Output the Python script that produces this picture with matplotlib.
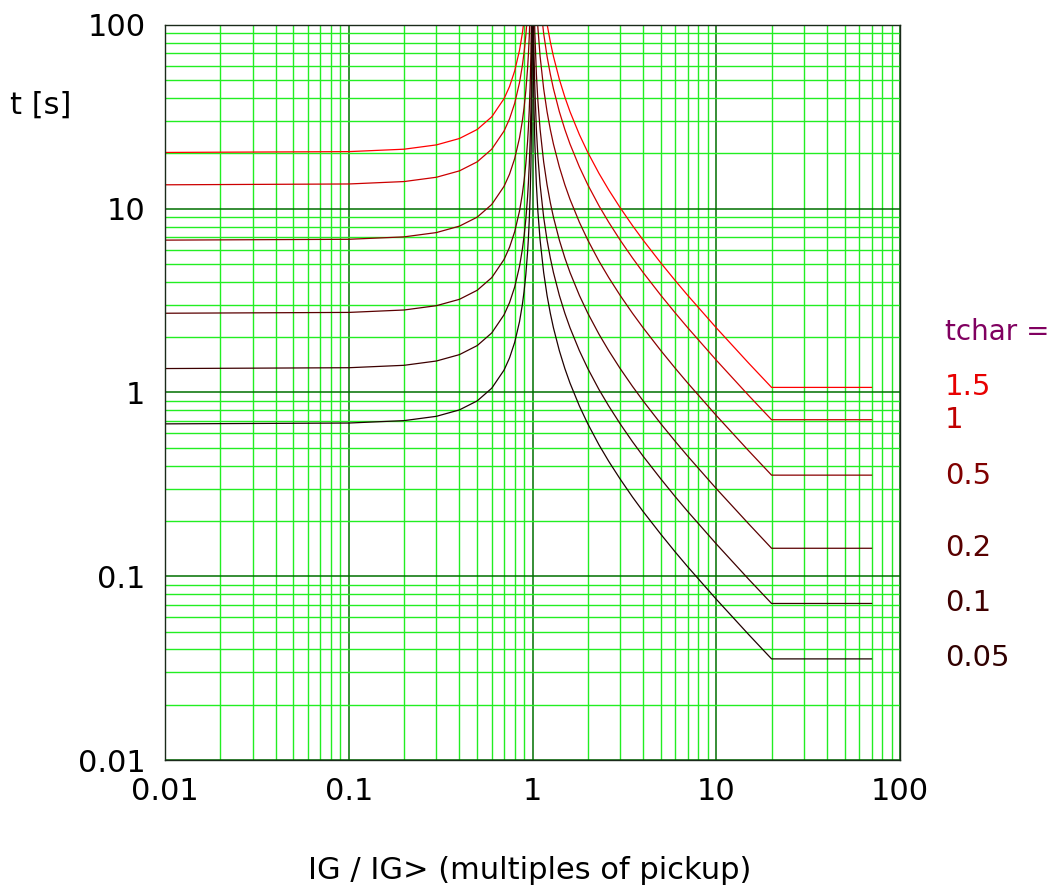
import matplotlib
matplotlib.use('Agg')
import matplotlib.pyplot as plt
import matplotlib.ticker as mtick

# ---------- DATA ----------
# below pickup (IG/IG> < 1)
x_left = [0.01, 0.1, 0.2, 0.3, 0.4, 0.5, 0.6, 0.7, 0.75, 0.8, 0.85, 0.88, 0.9, 0.92, 0.94,
          0.95, 0.96, 0.97, 0.98, 0.99, 0.995, 0.999]
# above pickup (IG/IG> > 1), flat after 20
x_right = [1.005, 1.01, 1.02, 1.03, 1.05, 1.07, 1.1, 1.15, 1.2, 1.25, 1.3, 1.4, 1.5, 1.6, 1.8,
           2, 2.3, 2.6, 3, 3.5, 4, 5, 6, 7, 10, 15, 20, 70]

left_15 = [20.25, 20.46, 21.09, 22.26, 24.11, 27.00, 31.64, 39.71, 46.29, 56.25, 72.98, 89.76,
           106.6, 131.8, 174.0, 207.8, 258.3, 342.6, 511.4, 1018, 2030, 10131]
left_10 = [13.50, 13.64, 14.06, 14.84, 16.07, 18.00, 21.09, 26.47, 30.86, 37.50, 48.65, 59.84,
           71.05, 87.89, 116.0, 138.5, 172.2, 228.4, 340.9, 678.4, 1353, 6754]
left_05 = [6.75, 6.82, 7.03, 7.42, 8.04, 9.00, 10.55, 13.24, 15.43, 18.75, 24.33, 29.92,
           35.53, 43.95, 58.0, 69.25, 86.1, 114.2, 170.5, 339.2, 676.5, 3377]
left_02 = [2.70, 2.728, 2.812, 2.968, 3.214, 3.60, 4.218, 5.294, 6.172, 7.50, 9.73, 11.97,
           14.21, 17.58, 23.2, 27.7, 34.44, 45.68, 68.18, 135.7, 270.6, 1351]
left_01 = [1.35, 1.364, 1.406, 1.484, 1.607, 1.80, 2.109, 2.647, 3.086, 3.75, 4.865, 5.984,
           7.105, 8.789, 11.6, 13.85, 17.22, 22.84, 34.09, 67.84, 135.3, 675.4]
left_005 = [0.675, 0.682, 0.703, 0.742, 0.804, 0.90, 1.055, 1.324, 1.543, 1.875, 2.433, 2.992,
            3.553, 4.395, 5.8, 6.925, 8.61, 11.42, 17.05, 33.92, 67.65, 337.7]

right_15 = [4050, 2025, 1013, 675, 405, 289.3, 202.5, 135, 101.3, 81, 67.5, 50.63, 40.5, 33.75,
            25.31, 20.25, 15.58, 12.66, 10.13, 8.1, 6.75, 5.063, 4.05, 3.375, 2.25, 1.446,
            1.066, 1.066]
right_10 = [2700, 1350, 675, 450, 270, 192.9, 135, 90, 67.5, 54, 45, 33.75, 27, 22.5, 16.88,
            13.5, 10.38, 8.44, 6.75, 5.4, 4.5, 3.375, 2.7, 2.25, 1.5, 0.964, 0.711, 0.711]
right_05 = [1350, 675, 337.5, 225, 135, 96.4, 67.5, 45, 33.75, 27, 22.5, 16.88, 13.5, 11.25,
            8.44, 6.75, 5.19, 4.22, 3.375, 2.7, 2.25, 1.688, 1.35, 1.125, 0.75, 0.482, 0.355,
            0.355]
right_02 = [540, 270, 135, 90, 54, 38.57, 27, 18, 13.5, 10.8, 9.0, 6.75, 5.4, 4.5, 3.375, 2.7,
            2.077, 1.688, 1.35, 1.08, 0.9, 0.675, 0.54, 0.45, 0.30, 0.193, 0.142, 0.142]
right_01 = [270, 135, 67.5, 45, 27, 19.29, 13.5, 9.0, 6.75, 5.4, 4.5, 3.375, 2.7, 2.25, 1.688,
            1.35, 1.038, 0.844, 0.675, 0.54, 0.45, 0.338, 0.27, 0.225, 0.15, 0.0964, 0.0711,
            0.0711]
right_005 = [135, 67.5, 33.75, 22.5, 13.5, 9.64, 6.75, 4.5, 3.375, 2.7, 2.25, 1.688, 1.35, 1.125,
             0.844, 0.675, 0.519, 0.422, 0.338, 0.27, 0.225, 0.169, 0.135, 0.1125, 0.075,
             0.0482, 0.0355, 0.0355]

lefts = [left_15, left_10, left_05, left_02, left_01, left_005]
rights = [right_15, right_10, right_05, right_02, right_01, right_005]
tchar_labels = ['1.5', '1', '0.5', '0.2', '0.1', '0.05']
curve_colors = ['#ff0000', '#cc0000', '#880000', '#5a0000', '#3c0000', '#1e0000']
label_colors = ['#e80000', '#c00000', '#800000', '#580000', '#400000', '#300000']
label_ypix = [387, 420, 476, 548, 603, 658]

W, H = 1054, 888

# ---------- PLOT ----------
fig = plt.figure(figsize=(W / 100, H / 100), dpi=100)
ax = fig.add_axes([165 / W, 1 - 760 / H, 735 / W, 735 / H])

ax.set_xscale('log')
ax.set_yscale('log')
ax.set_xlim(0.01, 100)
ax.set_ylim(0.01, 100)

ax.xaxis.set_minor_locator(mtick.LogLocator(base=10, subs=range(2, 10)))
ax.yaxis.set_minor_locator(mtick.LogLocator(base=10, subs=range(2, 10)))
ax.grid(which='minor', color='#22ee22', linewidth=1.0)
ax.grid(which='major', color='#006f00', linewidth=1.1)
ax.set_axisbelow(True)

for i in range(len(lefts)):
    ax.plot(x_left, lefts[i], color=curve_colors[i], linewidth=0.9)
    ax.plot(x_right, rights[i], color=curve_colors[i], linewidth=0.9)

ax.xaxis.set_major_formatter(mtick.FuncFormatter(lambda v, p: '{:g}'.format(v)))
ax.yaxis.set_major_formatter(mtick.FuncFormatter(lambda v, p: '{:g}'.format(v)))
ax.tick_params(which='both', length=0, labelsize=22, pad=14)
ax.tick_params(axis='x', pad=12)
for s in ax.spines.values():
    s.set_color('#1a2a1a')
    s.set_linewidth(1.0)

fig.text(308 / W, 1 - 870 / H, 'IG / IG> (multiples of pickup)', fontsize=22,
         ha='left', va='center')
fig.text(10 / W, 1 - 105 / H, 't [s]', fontsize=22, ha='left', va='center')

fig.text(945 / W, 1 - 332 / H, 'tchar =', fontsize=20, color='#800060',
         ha='left', va='center')
for i, lab in enumerate(tchar_labels):
    fig.text(945 / W, 1 - label_ypix[i] / H, lab, fontsize=21, color=label_colors[i],
             ha='left', va='center')

fig.savefig('out.png', dpi=100)
